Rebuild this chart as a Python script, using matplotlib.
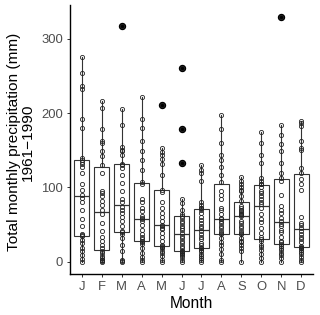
import matplotlib
matplotlib.use("Agg")
import matplotlib.pyplot as plt
import numpy as np

plt.rcParams['font.family'] = ['Liberation Sans', 'DejaVu Sans']

months = ["J", "F", "M", "A", "M", "J", "J", "A", "S", "O", "N", "D"]

jan = [0, 4, 9, 14, 19, 25, 29, 35, 36, 38, 48, 58, 70, 80, 86, 90, 96, 104, 120, 127, 131, 134, 137, 140, 180, 192, 233, 236, 254, 276]
feb = [0, 1, 2, 3, 5, 8, 12, 15, 18, 22, 28, 34, 42, 52, 64, 70, 76, 82, 88, 92, 95, 120, 130, 142, 149, 160, 162, 178, 207, 216]
mar = [0, 1, 3, 14, 23, 32, 38, 40, 42, 48, 55, 60, 66, 70, 74, 80, 84, 95, 106, 117, 126, 130, 132, 144, 149, 151, 155, 184, 206, 317]
apr = [0, 2, 6, 12, 19, 24, 27, 28, 30, 34, 37, 43, 50, 55, 57, 59, 61, 68, 73, 80, 84, 104, 107, 124, 137, 149, 162, 180, 192, 222]
may = [0, 3, 8, 12, 15, 18, 20, 21, 23, 28, 34, 39, 44, 46, 48, 50, 55, 60, 66, 72, 80, 94, 97, 117, 131, 138, 143, 148, 153, 211]
jun = [0, 3, 6, 9, 11, 12, 13, 14, 15, 18, 21, 25, 28, 32, 35, 39, 43, 46, 48, 52, 55, 59, 62, 64, 70, 79, 84, 133, 178, 261]
jul = [0, 2, 5, 8, 11, 14, 16, 18, 19, 22, 25, 30, 33, 37, 41, 45, 48, 52, 56, 60, 66, 70, 72, 73, 77, 81, 108, 120, 124, 130]
aug = [0, 3, 10, 17, 22, 26, 32, 37, 39, 41, 45, 48, 52, 55, 57, 59, 64, 70, 73, 84, 90, 95, 107, 117, 128, 137, 143, 160, 179, 197]
sep = [0, 14, 19, 23, 26, 28, 32, 37, 39, 42, 45, 48, 52, 55, 61, 63, 64, 66, 68, 70, 73, 75, 82, 88, 95, 97, 100, 104, 108, 114]
oct_ = [0, 5, 10, 16, 20, 23, 28, 30, 33, 39, 46, 53, 57, 64, 72, 78, 81, 84, 88, 92, 95, 101, 104, 105, 108, 113, 133, 144, 160, 174]
nov = [0, 5, 9, 12, 16, 19, 21, 24, 26, 28, 34, 40, 43, 48, 51, 55, 59, 65, 70, 75, 90, 108, 113, 120, 133, 149, 158, 171, 184, 329]
dec = [0, 3, 6, 10, 13, 16, 18, 19, 20, 21, 26, 30, 34, 38, 42, 46, 50, 52, 60, 97, 105, 111, 120, 126, 151, 153, 162, 182, 187, 190]

data = [jan, feb, mar, apr, may, jun, jul, aug, sep, oct_, nov, dec]
yticks = [0, 100, 200, 300]

fig = plt.figure(figsize=(3.2, 3.15), dpi=100)
ax = fig.add_axes([70/320, 1-274/315, 243/320, 269/315])

pos = np.arange(1, len(months)+1)
lc = '#333333'
ax.boxplot(data, positions=pos, widths=0.75, whis=1.5, showcaps=False,
           patch_artist=True,
           boxprops=dict(facecolor='white', edgecolor=lc, linewidth=0.8),
           whiskerprops=dict(color=lc, linewidth=0.8),
           medianprops=dict(color=lc, linewidth=0.9),
           flierprops=dict(marker='o', markerfacecolor='black', markeredgecolor='black',
                           markersize=4.3, linestyle='none'))

for p, vals in zip(pos, data):
    ax.plot([p]*len(vals), vals, linestyle='none', marker='o', markersize=3.0,
            markerfacecolor='none', markeredgecolor='#222222', markeredgewidth=0.6, zorder=5)

ax.set_xlim(0.4, 12.6)
allv = np.concatenate([np.array(d) for d in data])
rng = allv.max() - allv.min()
ax.set_ylim(allv.min() - 0.05*rng, allv.max() + 0.05*rng)
ax.set_xticks(pos)
ax.set_xticklabels(months)
ax.set_yticks(yticks)
ax.set_yticklabels([str(t) for t in yticks])

for s in ['top', 'right']:
    ax.spines[s].set_visible(False)
for s in ['left', 'bottom']:
    ax.spines[s].set_linewidth(1.0)
    ax.spines[s].set_color('black')

ax.tick_params(axis='both', length=2.5, width=0.7, color='#333333',
               labelcolor='#4D4D4D', labelsize=9.4, pad=2.5)

ax.set_xlabel("Month", fontsize=11.2, labelpad=2)
fig.text(21/320, 1-142/315, "Total monthly precipitation (mm)\n1961−1990",
         rotation=90, ha='center', va='center', fontsize=11.1,
         multialignment='center', linespacing=1.0)

fig.savefig("out.png", dpi=100)
